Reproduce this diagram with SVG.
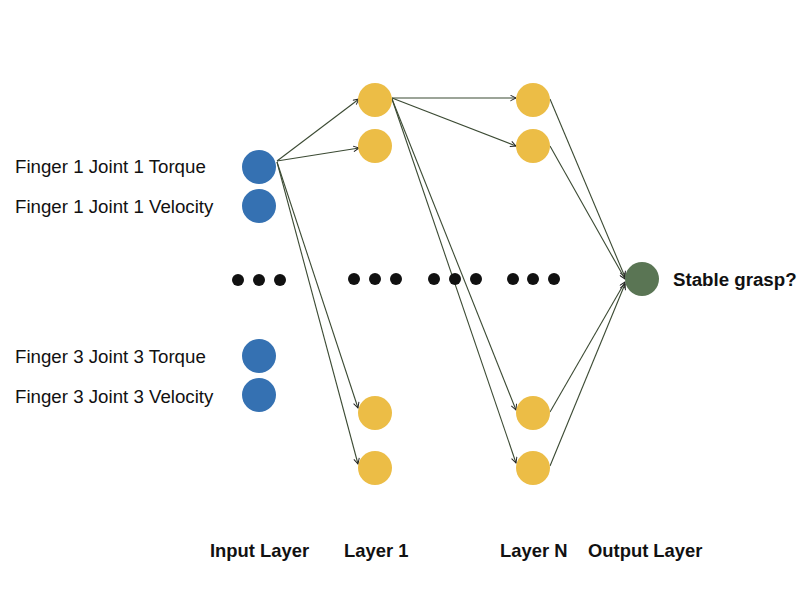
<svg xmlns="http://www.w3.org/2000/svg" width="800" height="600" viewBox="0 0 800 600">
<style>
.in{fill:#3571b2}
.hid{fill:#ecbd46}
.out{fill:#5a7554}
.dot{fill:#111}
.e{stroke:#3b4a33;stroke-width:1.1;fill:none;marker-end:url(#ah)}
.lbl{font-family:"Liberation Sans",Arial,sans-serif;font-size:18.7px;fill:#111}
.b{font-weight:bold}
.ll{font-size:18.4px}
</style>
<defs>
<marker id="ah" viewBox="0 0 10 10" refX="9" refY="5" markerWidth="7" markerHeight="7" orient="auto" markerUnits="userSpaceOnUse">
<path d="M1,1 L9,5 L1,9" fill="none" stroke="#222" stroke-width="1.4"/>
</marker>
</defs>
<rect width="800" height="600" fill="#fff"/>
<g id="connectors">
<line class="e" x1="277" y1="161" x2="359" y2="99"/>
<line class="e" x1="277" y1="161" x2="359" y2="148"/>
<line class="e" x1="277" y1="162" x2="358" y2="408"/>
<line class="e" x1="277" y1="162" x2="358" y2="464"/>
<line class="e" x1="392" y1="98" x2="516" y2="98"/>
<line class="e" x1="392" y1="98" x2="516" y2="146"/>
<line class="e" x1="392" y1="99" x2="516" y2="410"/>
<line class="e" x1="392" y1="99" x2="516" y2="463"/>
<line class="e" x1="550" y1="99" x2="625" y2="277"/>
<line class="e" x1="550" y1="146" x2="625" y2="279"/>
<line class="e" x1="550" y1="412" x2="625" y2="282"/>
<line class="e" x1="550" y1="466" x2="625" y2="284"/>
</g>
<g id="input-1"><circle class="in" cx="259" cy="167" r="17"/><text class="lbl" x="15" y="173">Finger 1 Joint 1 Torque</text></g>
<g id="input-2"><circle class="in" cx="259" cy="206" r="17"/><text class="lbl" x="15" y="213">Finger 1 Joint 1 Velocity</text></g>
<g id="input-3"><circle class="in" cx="259" cy="356" r="17"/><text class="lbl" x="15" y="363">Finger 3 Joint 3 Torque</text></g>
<g id="input-4"><circle class="in" cx="259" cy="395" r="17"/><text class="lbl" x="15" y="403">Finger 3 Joint 3 Velocity</text></g>
<g id="l1-1"><circle class="hid" cx="375" cy="100" r="17"/></g>
<g id="l1-2"><circle class="hid" cx="375" cy="146" r="17"/></g>
<g id="l1-3"><circle class="hid" cx="375" cy="413" r="17"/></g>
<g id="l1-4"><circle class="hid" cx="375" cy="468" r="17"/></g>
<g id="ln-1"><circle class="hid" cx="533" cy="100" r="17"/></g>
<g id="ln-2"><circle class="hid" cx="533" cy="146" r="17"/></g>
<g id="ln-3"><circle class="hid" cx="533" cy="413" r="17"/></g>
<g id="ln-4"><circle class="hid" cx="533" cy="468" r="17"/></g>
<g id="output"><circle class="out" cx="642" cy="279" r="17"/><text class="lbl b" x="673" y="286">Stable grasp?</text></g>
<g id="ellipses">
<circle class="dot" cx="238" cy="280" r="6"/><circle class="dot" cx="259" cy="280" r="6"/><circle class="dot" cx="280" cy="280" r="6"/>
<circle class="dot" cx="354" cy="279" r="6"/><circle class="dot" cx="375" cy="279" r="6"/><circle class="dot" cx="396" cy="279" r="6"/>
<circle class="dot" cx="434" cy="279" r="6"/><circle class="dot" cx="455" cy="279" r="6"/><circle class="dot" cx="476" cy="279" r="6"/>
<circle class="dot" cx="513" cy="279" r="6"/><circle class="dot" cx="533" cy="279" r="6"/><circle class="dot" cx="554" cy="279" r="6"/>
</g>
<g id="layer-labels">
<text class="lbl b ll" x="210" y="557">Input Layer</text>
<text class="lbl b ll" x="344" y="557">Layer 1</text>
<text class="lbl b ll" x="500" y="557">Layer N</text>
<text class="lbl b ll" x="588" y="557">Output Layer</text>
</g>
</svg>
